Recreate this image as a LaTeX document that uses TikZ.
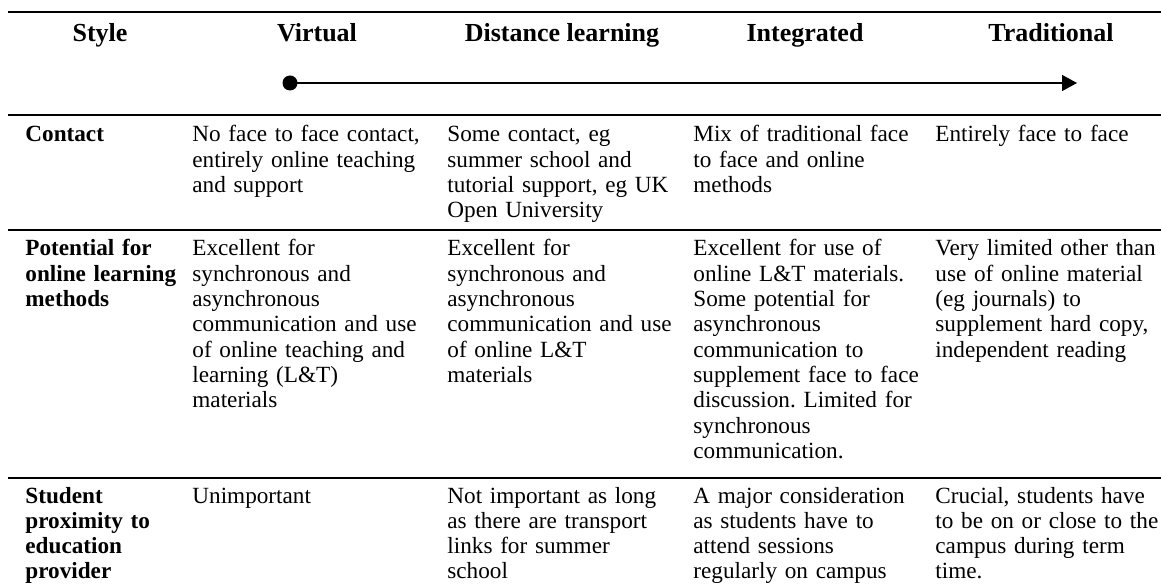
\documentclass[tikz,border=0pt]{standalone}
\usepackage{fontspec}
\setmainfont{Liberation Serif}
\usepackage{tikz}
\usetikzlibrary{arrows.meta}
\hyphenpenalty=10000
\exhyphenpenalty=10000
\frenchspacing

\begin{document}
\begin{tikzpicture}[x=0.5pt,y=-0.5pt]
	\tikzstyle{head}=[anchor=base, inner sep=0pt, font=\fontsize{13}{15}\selectfont\bfseries]
	\tikzstyle{rowname}=[anchor=base west, inner sep=0pt, text width=90pt, align=left, font=\fontsize{11.6}{12.65}\selectfont\bfseries]
	\tikzstyle{cell}=[anchor=base west, inner sep=0pt, text width=120pt, align=left, font=\fontsize{11.6}{12.65}\selectfont]
	\tikzstyle{rule}=[line width=1pt]
	\tikzstyle{dot}=[circle, fill=black, inner sep=0pt, minimum size=7.5pt]

	\useasboundingbox (0,0) rectangle (1161,587);

	% rules of the table
	\foreach \y in {12,115,230,478}
		\draw[rule] (8,\y) -- (1161,\y);

	% header
	\node[head] (hstyle) at (100,42) {Style};
	\node[head] (hvirtual) at (317,42) {Virtual};
	\node[head] (hdistance) at (562,42) {Distance learning};
	\node[head] (hintegrated) at (805,42) {Integrated};
	\node[head] (htraditional) at (1051,42) {Traditional};

	\node[dot] (scalestart) at (290,83) {};
	\coordinate (scaleend) at (1077,83);
	\draw[line width=0.7pt, -{Triangle[length=7.5pt,width=8pt]}] (scalestart.center) -- (scaleend);

	% contact
	\node[rowname] (contact) at (25,142) {Contact};
	\node[cell] (contactvirtual) at (192,142) {No face to face contact,\\ entirely online teaching\\ and support};
	\node[cell] (contactdistance) at (447,142) {Some contact, eg\\ summer school and\\ tutorial support, eg UK\\ Open University};
	\node[cell] (contactintegrated) at (693,142) {Mix of traditional face\\ to face and online\\ methods};
	\node[cell] (contacttraditional) at (935,142) {Entirely face to face};

	% potential for online learning
	\node[rowname] (potential) at (25,256) {Potential for\\ online learning\\ methods};
	\node[cell] (potentialvirtual) at (192,256) {Excellent for\\ synchronous and\\ asynchronous\\ communication and use\\ of online teaching and\\ learning (L\&T)\\ materials};
	\node[cell] (potentialdistance) at (447,256) {Excellent for\\ synchronous and\\ asynchronous\\ communication and use\\ of online L\&T\\ materials};
	\node[cell] (potentialintegrated) at (693,256) {Excellent for use of\\ online L\&T materials.\\ Some potential for\\ asynchronous\\ communication to\\ supplement face to face\\ discussion. Limited for\\ synchronous\\ communication.};
	\node[cell] (potentialtraditional) at (935,256) {Very limited other than\\ use of online material\\ (eg journals) to\\ supplement hard copy,\\ independent reading};

	% student proximity
	\node[rowname] (proximity) at (25,503) {Student\\ proximity to\\ education\\ provider};
	\node[cell] (proximityvirtual) at (192,503) {Unimportant};
	\node[cell] (proximitydistance) at (447,503) {Not important as long\\ as there are transport\\ links for summer\\ school};
	\node[cell] (proximityintegrated) at (693,503) {A major consideration\\ as students have to\\ attend sessions\\ regularly on campus};
	\node[cell] (proximitytraditional) at (935,503) {Crucial, students have\\ to be on or close to the\\ campus during term\\ time.};

\end{tikzpicture}
\end{document}
